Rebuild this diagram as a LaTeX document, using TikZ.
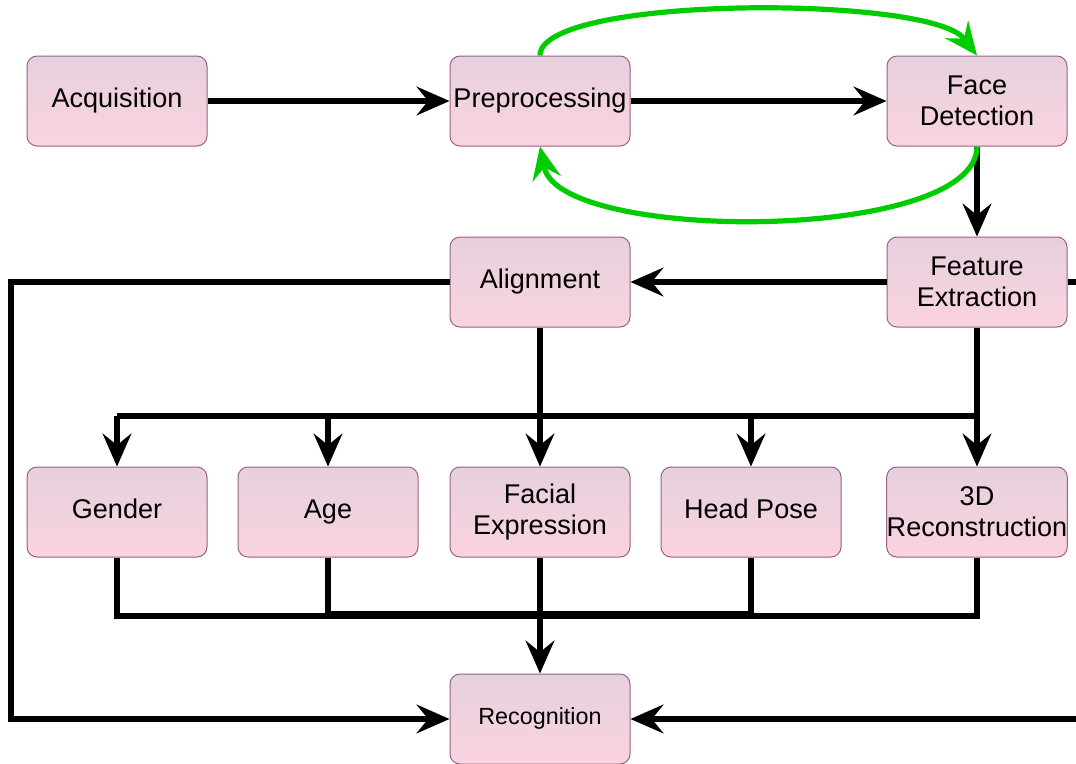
\documentclass[tikz,border=0pt]{standalone}
\usepackage{fontspec}
\setmainfont{Liberation Sans}
\usetikzlibrary{arrows.meta}
\definecolor{boxtop}{HTML}{E6D0DE}
\definecolor{boxbot}{HTML}{FAD3DF}
\definecolor{boxline}{HTML}{996185}
\definecolor{loopgreen}{HTML}{00CC00}
\begin{document}
\begin{tikzpicture}[x=0.75pt,y=-0.75pt,
  box/.style={draw=boxline, line width=0.75pt, rounded corners=7.5pt,
    top color=boxtop, bottom color=boxbot, minimum width=135pt,
    minimum height=67.5pt, inner sep=0pt, align=center,
    font=\fontsize{20.3}{23.5}\selectfont},
  smallbox/.style={box, font=\fontsize{17.5}{21}\selectfont},
  conn/.style={line width=4.4pt, draw=black},
  tip/.style={-{Stealth[length=25pt,width=22pt,inset=9pt,line width=0pt]}},
  arr/.style={conn, tip},
  loopback/.style={line width=3.9pt, draw=loopgreen, tip}]
\clip (0,0) rectangle (1076,764);
% nodes
\node[box] (acq) at (117,101) {\strut Acquisition};
\node[box] (pre) at (540,101) {\strut Preprocessing};
\node[box] (fd)  at (977,101) {Face\\Detection};
\node[box] (ali) at (540,282) {\strut Alignment};
\node[box] (fe)  at (977,282) {Feature\\Extraction};
\node[box] (gen) at (117,512) {\strut Gender};
\node[box] (age) at (328,512) {\strut Age};
\node[box] (fex) at (540,512) {Facial\\Expression};
\node[box] (hp)  at (751,512) {\strut Head Pose};
\node[box] (rc)  at (977,512) {3D\\Reconstruction};
\node[smallbox] (rec) at (540,719) {\strut Recognition};
% bus coordinates
\coordinate (tbus) at (540,416);
\coordinate (bbus) at (540,615);
\coordinate (lbus) at (11,500);
\coordinate (rbus) at (1100,500);
% main chain
\draw[arr] (acq) -- (pre);
\draw[arr] (pre) -- (fd);
\draw[arr] (fd) -- (fe);
\draw[arr] (fe) -- (ali);
% green loops
\draw[loopback] (pre.north) .. controls (540,-5) and (930,-5) .. (fd.north);
\draw[loopback] (fd.south) .. controls (977,243) and (560,243) .. (pre.south);
% side routes to recognition
\draw[arr] (ali.west) -- (ali.west -| lbus) -- (rec.west -| lbus) -- (rec.west);
\draw[arr] (fe.east) -- (fe.east -| rbus) -- (rec.east -| rbus) -- (rec.east);
% top bus
\draw[conn] (fe.south) -- (fe.south |- tbus) -- (gen.north |- tbus);
\draw[arr] (gen.north |- tbus) -- (gen.north);
\draw[arr] (age.north |- tbus) -- (age.north);
\draw[arr] (ali.south) -- (fex.north);
\draw[arr] (hp.north |- tbus) -- (hp.north);
\draw[arr] (rc.north |- tbus) -- (rc.north);
% bottom bus
\draw[conn] (gen.south) -- ([yshift=-0.6pt]gen.south |- bbus) -- ([yshift=-0.6pt]bbus);
\draw[conn] (age.south) -- ([yshift=0.6pt]age.south |- bbus) -- ([yshift=0.6pt]bbus);
\draw[conn] (hp.south) -- ([yshift=0.6pt]hp.south |- bbus) -- ([yshift=0.6pt]bbus);
\draw[conn] (rc.south) -- ([yshift=-0.6pt]rc.south |- bbus) -- ([yshift=-0.6pt]bbus);
\draw[arr] (fex.south) -- (rec.north);
\end{tikzpicture}
\end{document}
